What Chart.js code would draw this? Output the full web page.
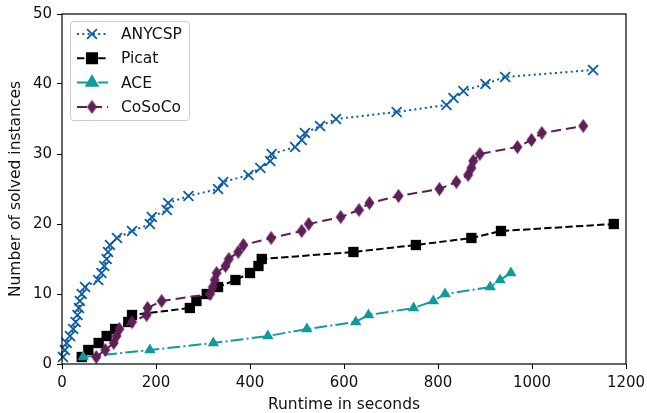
<!DOCTYPE html>
<html>
<head>
<meta charset="utf-8">
<script src="https://cdn.jsdelivr.net/npm/chart.js@4.4.0/dist/chart.umd.min.js"></script>
<style>
    html, body { margin: 0; padding: 0; background: #fff; }
    #wrap { width: 647px; height: 413px; }
</style>
</head>
<body>
<div id="wrap"><canvas id="chart" width="647" height="413"></canvas></div>
<script>
// Data (runtime in seconds vs. number of solved instances)
const anycspTimes = [2, 6, 10, 17, 24, 29, 33, 36, 38, 42, 49, 77, 84, 90, 95, 98, 102, 117, 149, 187,
    191, 223, 226, 269, 332, 343, 397, 422, 443, 446, 496, 510, 517, 549, 583, 712, 818, 833, 854, 901, 943, 1130];
const anycspSolved = [1, 2, 3, 4, 5, 6, 7, 8, 9, 10, 11, 12, 13, 14, 15, 16, 17, 18, 19, 20,
    21, 22, 23, 24, 25, 26, 27, 28, 29, 30, 31, 32, 33, 34, 35, 36, 37, 38, 39, 40, 41, 42];

const picatTimes = [42, 56, 78, 95, 113, 141, 149, 272, 286, 308, 332, 369, 400, 418, 425, 620, 753, 871, 934, 1174];
const picatSolved = [1, 2, 3, 4, 5, 6, 7, 8, 9, 10, 11, 12, 13, 14, 15, 16, 17, 18, 19, 20];

const aceTimes = [45, 187, 322, 438, 521, 625, 652, 748, 790, 815, 911, 932, 955];
const aceSolved = [1, 2, 3, 4, 5, 6, 7, 8, 9, 10, 11, 12, 13];

const cosocoTimes = [73, 92, 110, 116, 122, 149, 180, 182, 212, 315, 321, 325, 329, 348, 355, 375, 386,
    445, 510, 525, 593, 632, 654, 716, 803, 839, 864, 871, 875, 889, 969, 999, 1021, 1109];
const cosocoSolved = [1, 2, 3, 4, 5, 6, 7, 8, 9, 10, 11, 12, 13, 14, 15, 16, 17,
    18, 19, 20, 21, 22, 23, 24, 25, 26, 27, 28, 29, 30, 31, 32, 33, 34];

const xTicks = [0, 200, 400, 600, 800, 1000, 1200];
const yTicks = [0, 10, 20, 30, 40, 50];

const colors = {
    anycsp: '#0c5da5',
    picat: '#000000',
    ace: '#0f9a9e',
    cosoco: '#5e1f56'
};

// thin diamond marker (matplotlib 'd')
function makeDiamond(color) {
    const c = document.createElement('canvas');
    c.width = 11;
    c.height = 15;
    const g = c.getContext('2d');
    g.fillStyle = color;
    g.beginPath();
    g.moveTo(5.5, 0.5);
    g.lineTo(10.5, 7.5);
    g.lineTo(5.5, 14.5);
    g.lineTo(0.5, 7.5);
    g.closePath();
    g.fill();
    return c;
}
const diamond = makeDiamond(colors.cosoco);

function toPoints(xs, ys) {
    return xs.map((x, i) => ({ x: x, y: ys[i] }));
}

const series = [
    { label: 'ANYCSP', times: anycspTimes, solved: anycspSolved, color: colors.anycsp,
      dash: [2, 3.3], style: 'crossRot', radius: 7, order: 3 },
    { label: 'Picat', times: picatTimes, solved: picatSolved, color: colors.picat,
      dash: [7.4, 3.2], style: 'rect', radius: 7.3, order: 2 },
    { label: 'ACE', times: aceTimes, solved: aceSolved, color: colors.ace,
      dash: [12.8, 3.2, 2, 3.2], style: 'triangle', radius: 6.6, order: 1 },
    { label: 'CoSoCo', times: cosocoTimes, solved: cosocoSolved, color: colors.cosoco,
      dash: [10, 5], style: diamond, radius: 7, order: 0 }
];

// axes frame like matplotlib spines
const frame = {
    id: 'frame',
    afterDatasetsDraw(chart) {
        const { ctx, chartArea: a } = chart;
        ctx.save();
        ctx.strokeStyle = '#000';
        ctx.lineWidth = 1.2;
        ctx.strokeRect(a.left, a.top, a.right - a.left, a.bottom - a.top);
        ctx.restore();
    }
};

// legend with line + marker samples
const legendBox = {
    id: 'legendBox',
    afterDraw(chart) {
        const { ctx, chartArea: a } = chart;
        const bx = a.left + 8, by = a.top + 7, bw = 119, bh = 99;
        ctx.save();
        ctx.beginPath();
        ctx.roundRect(bx + 0.5, by + 0.5, bw, bh, 3);
        ctx.fillStyle = 'rgba(255,255,255,0.8)';
        ctx.fill();
        ctx.strokeStyle = '#cccccc';
        ctx.lineWidth = 1;
        ctx.stroke();

        series.forEach((s, i) => {
            const cy = by + 13 + i * 24.3;
            ctx.beginPath();
            ctx.setLineDash(s.dash);
            ctx.strokeStyle = s.color;
            ctx.lineWidth = 2;
            ctx.moveTo(bx + 7, cy);
            ctx.lineTo(bx + 38, cy);
            ctx.stroke();
            ctx.setLineDash([]);
            ctx.fillStyle = s.color;
            ctx.strokeStyle = s.color;
            ctx.lineWidth = 1.8;
            Chart.helpers.drawPoint(ctx, { pointStyle: s.style, radius: s.radius, rotation: 0, borderWidth: 1.8 }, bx + 22, cy);

            ctx.fillStyle = '#111';
            ctx.font = '15.5px "DejaVu Sans"';
            ctx.textBaseline = 'middle';
            ctx.fillText(s.label, bx + 51, cy + 1);
        });
        ctx.restore();
    }
};

Chart.defaults.font.family = '"DejaVu Sans", sans-serif';
Chart.defaults.font.size = 15;
Chart.defaults.color = '#111';

const datasets = series.map(s => ({
    label: s.label,
    data: toPoints(s.times, s.solved),
    borderColor: s.color,
    backgroundColor: s.color,
    borderWidth: 2,
    borderDash: s.dash,
    pointStyle: s.style,
    pointRadius: s.radius,
    pointBorderWidth: s.style === 'crossRot' ? 1.8 : 0,
    pointBackgroundColor: s.color,
    pointBorderColor: s.color,
    tension: 0,
    fill: false,
    clip: false,
    order: s.order
}));

new Chart(document.getElementById('chart').getContext('2d'), {
    type: 'line',
    data: { datasets: datasets },
    options: {
        responsive: false,
        animation: false,
        events: [],
        layout: { padding: { top: 14, right: 21, left: 0, bottom: 0 } },
        plugins: {
            legend: { display: false },
            tooltip: { enabled: false }
        },
        scales: {
            x: {
                type: 'linear',
                min: 0,
                max: 1200,
                afterFit: (scale) => {
                    scale.height = 49;
                    scale.paddingLeft = 0;
                    scale.paddingRight = 0;
                },
                afterBuildTicks: (scale) => { scale.ticks = xTicks.map(v => ({ value: v })); },
                grid: { drawOnChartArea: false, drawTicks: true, tickLength: 5, color: '#000', tickWidth: 1 },
                border: { display: false },
                ticks: { padding: 5, color: '#111', maxRotation: 0, callback: (v) => String(v) },
                title: { display: true, text: 'Runtime in seconds', color: '#111',
                    font: { size: 15.5 }, padding: { top: 0, bottom: -1 } }
            },
            y: {
                type: 'linear',
                min: 0,
                max: 50,
                afterFit: (scale) => {
                    scale.width = 62;
                    scale.paddingTop = 0;
                    scale.paddingBottom = 0;
                },
                afterBuildTicks: (scale) => { scale.ticks = yTicks.map(v => ({ value: v })); },
                grid: { drawOnChartArea: false, drawTicks: true, tickLength: 5, color: '#000', tickWidth: 1 },
                border: { display: false },
                ticks: { padding: 5, color: '#111', callback: (v) => String(v) },
                title: { display: true, text: 'Number of solved instances', color: '#111',
                    font: { size: 15.5 }, padding: { top: 7, bottom: 0 } }
            }
        }
    },
    plugins: [frame, legendBox]
});
</script>
</body>
</html>
